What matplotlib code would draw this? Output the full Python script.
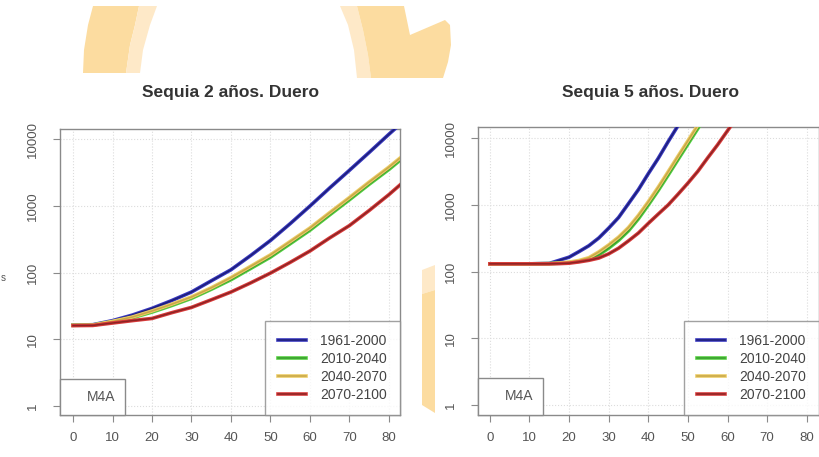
import matplotlib
matplotlib.use("Agg")
import matplotlib.pyplot as plt
from matplotlib.patches import Polygon, Rectangle
import matplotlib.patheffects as pe

plt.rcParams['font.family'] = ['Liberation Sans', 'DejaVu Sans']

# ---------------- data ----------------
periods = ["1961-2000", "2010-2040", "2040-2070", "2070-2100"]
colors = ["#3838c0", "#55d040", "#eccc66", "#d83a3a"]
dark = ["#1e1e78", "#3a9c30", "#c8a848", "#8c2424"]

# Sequia 2 años
x2 = [0, 5, 10, 15, 20, 25, 30, 35, 40, 45, 50, 55, 60, 65, 70, 75, 80, 83]
s2_1961 = [16.3, 16.5, 19.0, 23, 29, 38, 51, 75, 110, 180, 302, 540, 990, 1850, 3400, 6300, 11800, 17000]
s2_2010 = [16.2, 16.3, 18.3, 21, 25.5, 32, 41, 56, 78, 115, 170, 270, 430, 730, 1230, 2100, 3500, 4900]
s2_2040 = [16.2, 16.3, 18.5, 21.5, 26.5, 33.5, 43, 59, 84, 124, 184, 292, 465, 790, 1330, 2270, 3800, 5300]
s2_2070 = [16.0, 16.1, 17.5, 19, 20.5, 25, 30, 39, 51, 70, 98, 142, 210, 330, 505, 850, 1470, 2100]

# Sequia 5 años
x5 = [0, 5, 10, 15, 17.5, 20, 22.5, 25, 27.5, 30, 32.5, 35, 37.5, 40, 42.5, 45, 47.5, 50,
      52.5, 55, 57.5, 60, 62.5]
s5_1961 = [131, 131, 131, 133, 148, 165, 200, 245, 320, 450, 650, 1050, 1700, 2950, 5000,
           8900, 15500, 26000, 44000, 75000, 125000, 210000, 350000]
s5_2010 = [131, 131, 131, 132, 134, 137, 143, 153, 178, 225, 295, 410, 620, 1000, 1650,
           2800, 4800, 8200, 14000, 24000, 41000, 70000, 120000]
s5_2040 = [131, 131, 131, 132, 135, 139, 147, 162, 198, 252, 330, 460, 700, 1120, 1850,
           3150, 5400, 9200, 15700, 27000, 46000, 78000, 134000]
s5_2070 = [131, 131, 131, 131, 132, 134, 140, 148, 160, 185, 225, 290, 380, 530, 730,
           1000, 1450, 2130, 3200, 5100, 8000, 13000, 21000]

titles = ["Sequia 2 años. Duero", "Sequia 5 años. Duero"]
xticks = [0, 10, 20, 30, 40, 50, 60, 70, 80]
yticks = [1, 10, 100, 1000, 10000]
ytick_labels = ["1", "10", "100", "1000", "10000"]
model_label = "M4A"

W, H = 819, 457
fig = plt.figure(figsize=(W / 100, H / 100), dpi=100)
fig.patch.set_facecolor("white")


def px(x, y):
    return (x / W, 1 - y / H)


# ---------------- background watermark shapes ----------------
orange = "#fcdca0"
light = "#fee9c8"
shapes = [
    ([(93, 6), (139, 6), (135, 25), (130, 45), (126, 73), (83, 73), (84, 50), (88, 25)], orange),
    ([(139, 6), (157, 6), (150, 25), (143, 50), (140, 73), (126, 73), (130, 45), (135, 25)], light),
    ([(340, 6), (357, 6), (363, 30), (368, 55), (371, 78), (357, 78), (354, 50), (348, 25)], light),
    ([(357, 6), (404, 6), (410, 35), (445, 20), (450, 25), (451, 45), (448, 62), (443, 78),
      (371, 78), (368, 55), (363, 30)], orange),
    ([(422, 270), (435, 265), (435, 290), (422, 294)], light),
    ([(422, 294), (435, 290), (435, 413), (422, 405)], orange),
]
for verts, c in shapes:
    fig.patches.append(Polygon([px(*v) for v in verts], closed=True, transform=fig.transFigure,
                               facecolor=c, edgecolor="none", zorder=0))

# ---------------- panels ----------------
panels = [
    dict(rect=(60, 129, 400, 415), x=x2, ys=[s2_1961, s2_2010, s2_2040, s2_2070],
         xlim=(-3.3, 82.8), ylim=(10 ** -0.135, 10 ** 4.15), title_xy=(230, 93),
         mbox=(65, 36)),
    dict(rect=(478, 127, 819, 415), x=x5, ys=[s5_1961, s5_2010, s5_2040, s5_2070],
         xlim=(-3.0, 83.1), ylim=(10 ** -0.15, 10 ** 4.17), title_xy=(650, 92),
         mbox=(65, 37)),
]

for i, p in enumerate(panels):
    l, t, r, b = p["rect"]
    ax = fig.add_axes([l / W, 1 - b / H, (r - l) / W, (b - t) / H])
    ax.set_facecolor("white")
    ax.set_yscale("log")
    ax.set_xlim(*p["xlim"])
    ax.set_ylim(*p["ylim"])
    ax.set_xticks(xticks)
    ax.set_xticklabels([str(v) for v in xticks])
    ax.set_yticks(yticks)
    ax.set_yticklabels(ytick_labels, rotation=90, va="center")
    ax.yaxis.set_minor_locator(matplotlib.ticker.NullLocator())
    ax.grid(True, color="#dcdcdc", linestyle=":", linewidth=0.8)
    ax.set_axisbelow(True)
    for s in ax.spines.values():
        s.set_color("#8a8a8a")
        s.set_linewidth(1.0)
    ax.tick_params(direction="out", length=5, width=0.8, color="#8a8a8a",
                   labelcolor="#555555", labelsize=9.5)
    ax.tick_params(axis="x", pad=7)
    ax.tick_params(axis="y", pad=10)

    handles = []
    for k, (yv, c, d) in enumerate(zip(p["ys"], colors, dark)):
        ln, = ax.plot(p["x"], yv, color=d, linewidth=1.1, label=periods[k], zorder=3 + k * 0.1,
                      path_effects=[pe.Stroke(linewidth=2.6, foreground=c), pe.Normal()])
        handles.append(ln)

    leg = ax.legend(handles=handles, loc="lower right", bbox_to_anchor=(1.0, 0.0),
                    borderaxespad=0, fontsize=10, frameon=True, fancybox=False,
                    handlelength=2.0, handletextpad=1.0, labelspacing=0.28,
                    borderpad=0.95, labelcolor="#444444")
    leg.get_frame().set_edgecolor("#8a8a8a")
    leg.get_frame().set_linewidth(1.0)
    leg.set_zorder(10)

    bw, bh = p["mbox"]
    ax.add_patch(Rectangle((0, 0), bw / (r - l), bh / (b - t), transform=ax.transAxes,
                           facecolor="white", edgecolor="#8a8a8a", linewidth=1.0, zorder=9,
                           clip_on=False))
    ax.text(0.63 * bw / (r - l), 0.5 * bh / (b - t), model_label, transform=ax.transAxes,
            ha="center", va="center", fontsize=10, color="#555555", zorder=11)

    fig.text(*px(*p["title_xy"]), titles[i], ha="center", va="center",
             fontsize=12.5, fontweight="bold", color="#333333")

fig.text(*px(3, 278), "s", ha="center", va="center", fontsize=7, color="#555555")

fig.savefig("out.png", dpi=100, facecolor="white")
